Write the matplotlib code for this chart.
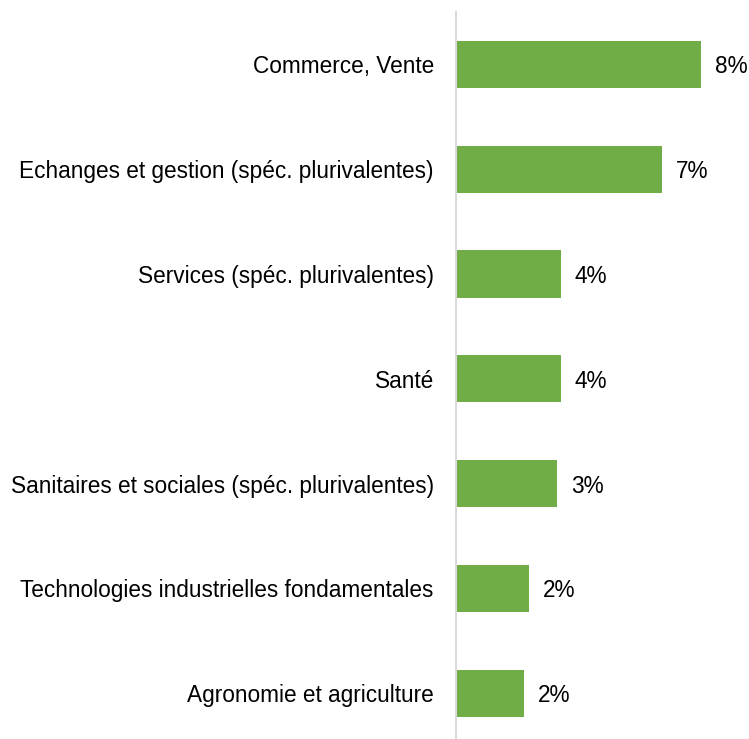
import matplotlib
matplotlib.use("Agg")
import matplotlib.pyplot as plt

categories = [
    "Commerce, Vente",
    "Echanges et gestion (spéc. plurivalentes)",
    "Services (spéc. plurivalentes)",
    "Santé",
    "Sanitaires et sociales (spéc. plurivalentes)",
    "Technologies industrielles fondamentales",
    "Agronomie et agriculture",
]
values = [8.36, 7.02, 3.57, 3.57, 3.44, 2.48, 2.32]
labels = ["8%", "7%", "4%", "4%", "3%", "2%", "2%"]

plt.rcParams['font.family'] = ['Liberation Sans', 'DejaVu Sans']

W, H = 749, 739
fig = plt.figure(figsize=(W / 100, H / 100), dpi=100)
step = 104.8
top_px = 12
left_px = 456
ax_h = 7 * step
ax = fig.add_axes([left_px / W, (H - top_px - ax_h) / H, (W - left_px) / W, ax_h / H])

ypos = list(range(len(categories)))
ax.barh(ypos, values, height=0.45, color="#70AD47")
ax.set_ylim(len(categories) - 0.5, -0.5)
ax.set_xlim(0, (W - left_px) / 29.3)

fs = 16.3
for y, v, lab in zip(ypos, values, labels):
    ax.annotate(lab, (v, y), xytext=(10, 0), textcoords="offset points",
                va="center_baseline", ha="left", fontsize=fs, color="#000000")

ax.set_yticks(ypos)
ax.set_yticklabels(categories, fontsize=fs, va="center_baseline")
ax.tick_params(axis="y", length=0, pad=16)
ax.set_xticks([])
for s in ["top", "right", "bottom"]:
    ax.spines[s].set_visible(False)
ax.spines["left"].set_color("#d9d9d9")
ax.spines["left"].set_linewidth(1.5)

fig.savefig("out.png", dpi=100)
